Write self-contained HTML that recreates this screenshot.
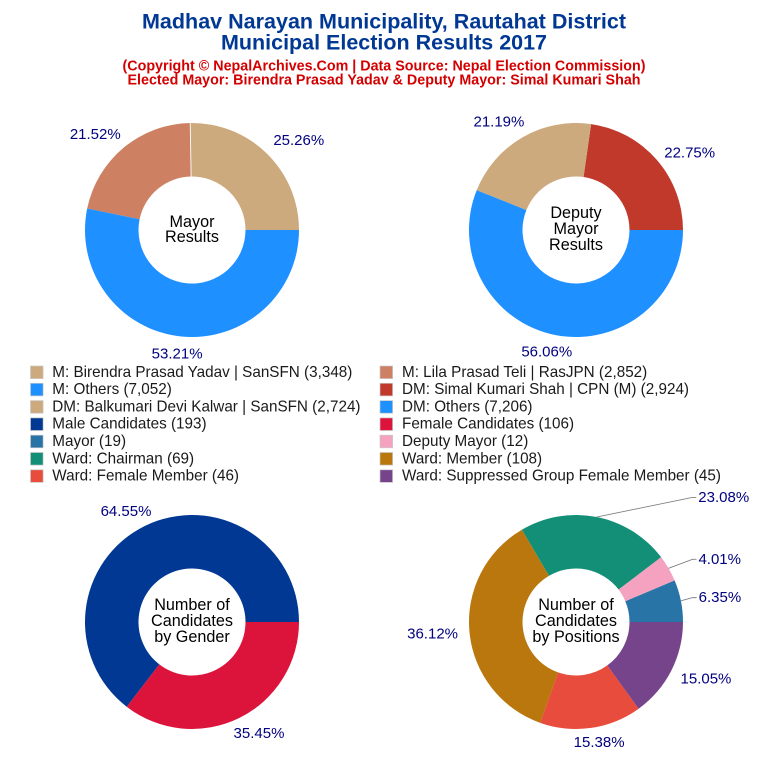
<!DOCTYPE html>
<html lang="en">
<head>
<meta charset="utf-8">
<title>Madhav Narayan Municipality Election Results 2017</title>
<style>
html,body{margin:0;padding:0;background:#fff;}
svg{display:block;font-family:"Liberation Sans",Arial,sans-serif;}
.title{font-weight:bold;font-size:21px;fill:#003893;text-anchor:middle;}
.sub{font-weight:bold;font-size:14.5px;fill:#d40000;text-anchor:middle;}
.center{font-size:16.2px;fill:#000;text-anchor:middle;}
.pct{font-size:15px;fill:#000080;text-anchor:middle;dominant-baseline:central;}
.leg{font-size:15.25px;fill:#1a1a1a;dominant-baseline:central;}
</style>
</head>
<body>
<svg id="chart" width="768" height="768" viewBox="0 0 768 768" xmlns="http://www.w3.org/2000/svg">
  <rect width="768" height="768" fill="#fff"/>
  <text class="title" x="384" y="28.3" textLength="484" lengthAdjust="spacingAndGlyphs">Madhav Narayan Municipality, Rautahat District</text>
  <text class="title" x="384" y="49.3" textLength="326" lengthAdjust="spacingAndGlyphs">Municipal Election Results 2017</text>
  <text class="sub" x="384" y="70.5" textLength="523" lengthAdjust="spacingAndGlyphs">(Copyright © NepalArchives.Com | Data Source: Nepal Election Commission)</text>
  <text class="sub" x="384" y="84.3" textLength="513" lengthAdjust="spacingAndGlyphs">Elected Mayor: Birendra Prasad Yadav &amp; Deputy Mayor: Simal Kumari Shah</text>
  <g id="marks"></g>
  <g id="legend"></g>
  <g>
    <text class="center" x="192" y="227">Mayor</text>
    <text class="center" x="192" y="242">Results</text>
  </g>
  <g>
    <text class="center" x="576" y="218">Deputy</text>
    <text class="center" x="576" y="234">Mayor</text>
    <text class="center" x="576" y="250">Results</text>
  </g>
  <g>
    <text class="center" x="192" y="610">Number of</text>
    <text class="center" x="192" y="626">Candidates</text>
    <text class="center" x="192" y="642">by Gender</text>
  </g>
  <g>
    <text class="center" x="576" y="610">Number of</text>
    <text class="center" x="576" y="626">Candidates</text>
    <text class="center" x="576" y="642">by Positions</text>
  </g>
</svg>
<script>
/* ---- data ---- */
const mayorNames = ['M: Birendra Prasad Yadav | SanSFN', 'M: Lila Prasad Teli | RasJPN', 'M: Others'];
const mayorValues = [3348, 2852, 7052];
const deputyNames = ['DM: Simal Kumari Shah | CPN (M)', 'DM: Balkumari Devi Kalwar | SanSFN', 'DM: Others'];
const deputyValues = [2924, 2724, 7206];
const genderNames = ['Male Candidates', 'Female Candidates'];
const genderValues = [193, 106];
const positionNames = ['Mayor', 'Deputy Mayor', 'Ward: Chairman', 'Ward: Member', 'Ward: Female Member', 'Ward: Suppressed Group Female Member'];
const positionValues = [19, 12, 69, 108, 46, 45];
/* legend reading order, by row, as [chart index, slice index] */
const legendOrder = [[0,0],[0,1],[0,2],[1,0],[1,1],[1,2],[2,0],[2,1],[3,0],[3,1],[3,2],[3,3],[3,4],[3,5]];

/* ---- style / layout ---- */
const mayorColors = ['#CDAA7D', '#CD8162', '#1E90FF'];
const deputyColors = ['#C0392B', '#CDAA7D', '#1E90FF'];
const genderColors = ['#003893', '#DC143C'];
const positionColors = ['#2874A6', '#F4A2C0', '#148F77', '#B9770E', '#E74C3C', '#76448A'];
const mayorNudges = [[17,2],[-15,3],[-2,-3.5]];
const deputyNudges = [[17,7],[-13,3],[-5,-3.5]];
const genderNudges = [[-9.5,4.5],[10.5,-3.5]];
const positionNudges = [[18.5,1],[33,1.5],[123,1],[-16,0],[5,-6],[16,-1.5]];

const svgNS = 'http://www.w3.org/2000/svg';
const outerR = 107, innerR = 53.5, labelR = 128;
const charts = [
  {key:'mayor', cx:192, cy:230, names:mayorNames, values:mayorValues, colors:mayorColors, nudges:mayorNudges, leaders:[], separator:[1]},
  {key:'deputy-mayor', cx:576, cy:230, names:deputyNames, values:deputyValues, colors:deputyColors, nudges:deputyNudges, leaders:[], separator:[]},
  {key:'gender', cx:192, cy:622, names:genderNames, values:genderValues, colors:genderColors, nudges:genderNudges, leaders:[], separator:[]},
  {key:'positions', cx:576, cy:622, names:positionNames, values:positionValues, colors:positionColors, nudges:positionNudges, leaders:[0,1,2], separator:[]}
];
const marks = document.getElementById('marks');
const legend = document.getElementById('legend');

function px(c, r, a){ return c.cx + r * Math.cos(a); }
function py(c, r, a){ return c.cy - r * Math.sin(a); }
function slug(s){ return s.toLowerCase().replace(/[^a-z0-9]+/g, '-').replace(/^-|-$/g, ''); }

function slicePath(c, a0, a1){
  const large = (a1 - a0) > Math.PI ? 1 : 0;
  return 'M' + px(c,outerR,a0) + ' ' + py(c,outerR,a0) +
    ' A' + outerR + ' ' + outerR + ' 0 ' + large + ' 0 ' + px(c,outerR,a1) + ' ' + py(c,outerR,a1) +
    ' L' + px(c,innerR,a1) + ' ' + py(c,innerR,a1) +
    ' A' + innerR + ' ' + innerR + ' 0 ' + large + ' 1 ' + px(c,innerR,a0) + ' ' + py(c,innerR,a0) + ' Z';
}

charts.forEach(function(c){
  const total = c.values.reduce(function(s,v){ return s + v; }, 0);
  let start = 0;
  c.values.forEach(function(v, i){
    const share = v / total;
    const a0 = start * 2 * Math.PI;
    const a1 = (start + share) * 2 * Math.PI;
    const mid = (a0 + a1) / 2;

    const path = document.createElementNS(svgNS, 'path');
    
    
    path.setAttribute('d', slicePath(c, a0, a1));
    path.setAttribute('fill', c.colors[i]);
    marks.appendChild(path);

    const lx = px(c, labelR, mid) + c.nudges[i][0];
    const ly = py(c, labelR, mid) + c.nudges[i][1];

    const label = document.createElementNS(svgNS, 'text');
    
    
    label.setAttribute('class', 'pct');
    label.setAttribute('x', lx);
    label.setAttribute('y', ly);
    label.textContent = (share * 100).toFixed(2) + '%';
    marks.appendChild(label);

    if (c.leaders.indexOf(i) >= 0) {
      const left = lx - label.getComputedTextLength() / 2;
      const lead = document.createElementNS(svgNS, 'polyline');
      
      
      lead.setAttribute('points', px(c,outerR,mid) + ',' + py(c,outerR,mid) + ' ' + (left-6) + ',' + ly + ' ' + (left-2) + ',' + ly);
      lead.setAttribute('fill', 'none');
      lead.setAttribute('stroke', '#808080');
      lead.setAttribute('stroke-width', '0.9');
      marks.appendChild(lead);
    }

    start += share;
  });
});

/* thin white gap between slices where the reference shows one */
charts.forEach(function(c){
  const total = c.values.reduce(function(s,v){ return s + v; }, 0);
  c.separator.forEach(function(n){
    const a = c.values.slice(0, n).reduce(function(s,v){ return s + v; }, 0) / total * 2 * Math.PI;
    const sep = document.createElementNS(svgNS, 'line');
    
    
    sep.setAttribute('x1', px(c,innerR,a));
    sep.setAttribute('y1', py(c,innerR,a));
    sep.setAttribute('x2', px(c,outerR+1,a));
    sep.setAttribute('y2', py(c,outerR+1,a));
    sep.setAttribute('stroke', '#fff');
    sep.setAttribute('stroke-width', '0.9');
    marks.appendChild(sep);
  });
});

legendOrder.forEach(function(entry, i){
  const c = charts[entry[0]];
  const s = entry[1];
  const col = i % 2;
  const row = Math.floor(i / 2);
  const rowY = 372.3 + row * 17.3;
  const sw = document.createElementNS(svgNS, 'rect');
  
  
  sw.setAttribute('x', col ? 380 : 30.5);
  sw.setAttribute('y', rowY - 6.3);
  sw.setAttribute('width', 12.6);
  sw.setAttribute('height', 12.6);
  sw.setAttribute('fill', c.colors[s]);
  sw.setAttribute('stroke', '#c8c8c8');
  sw.setAttribute('stroke-width', '0.7');
  legend.appendChild(sw);
  const t = document.createElementNS(svgNS, 'text');
  
  
  t.setAttribute('class', 'leg');
  t.setAttribute('x', col ? 402 : 52.3);
  t.setAttribute('y', rowY);
  t.textContent = c.names[s] + ' (' + c.values[s].toLocaleString('en-US') + ')';
  legend.appendChild(t);
});
</script>
</body>
</html>
